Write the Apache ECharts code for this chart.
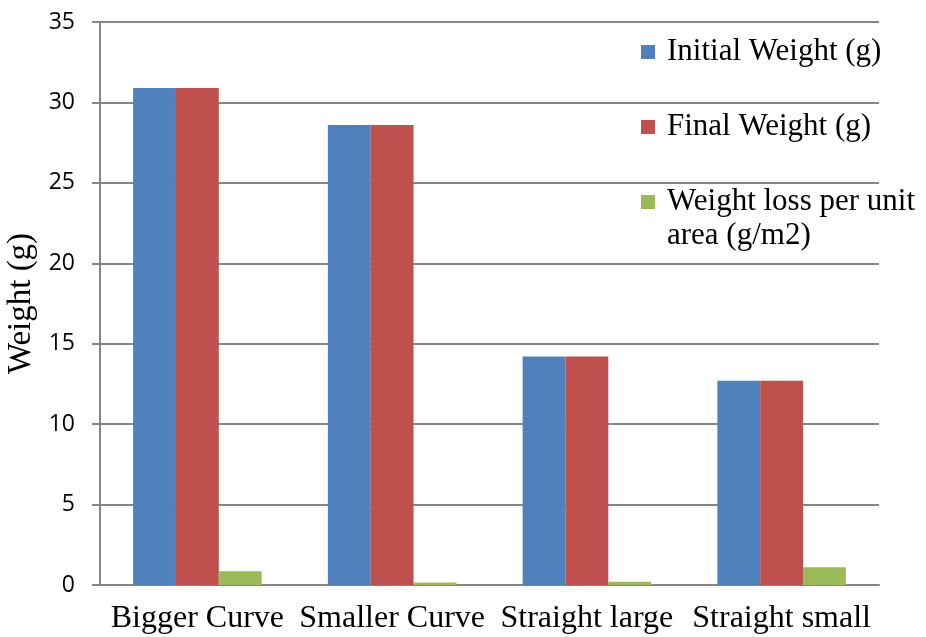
<!DOCTYPE html>
<html>
<head>
<meta charset="utf-8">
<script src="https://cdn.jsdelivr.net/npm/echarts@6/dist/echarts.min.js"></script>
<style>
  html, body { margin: 0; padding: 0; background: #fff; }
  #chart { width: 926px; height: 637px; }
</style>
</head>
<body>
<div id="chart"></div>
<script>
// 数据
var categories = ['Bigger Curve', 'Smaller Curve', 'Straight large', 'Straight small'];
var initialWeight = [30.9, 28.6, 14.2, 12.7];
var finalWeight = [30.9, 28.6, 14.2, 12.7];
var weightLoss = [0.85, 0.15, 0.2, 1.1];
var seriesNames = ['Initial Weight (g)', 'Final Weight (g)', 'Weight loss per unit area (g/m2)'];

var serif = '"Liberation Serif", "Times New Roman", serif';
var chart = echarts.init(document.getElementById('chart'));

var option = {
  animation: false,
  color: ['#4F81BD', '#C0504D', '#9BBB59'],
  grid: { left: 100, right: 47, top: 22, bottom: 52, outerBoundsMode: 'none' },
  legend: {
    orient: 'vertical',
    left: 636,
    top: 29,
    itemWidth: 14,
    itemHeight: 14,
    itemGap: 39,
    icon: 'rect',
    data: seriesNames,
    formatter: function (name) {
      // 第三项第二行用 graphic 画
      return name === seriesNames[2] ? 'Weight loss per unit' : name;
    },
    textStyle: { fontFamily: serif, fontSize: 31, color: '#000', lineHeight: 36, padding: [0, 0, 0, 7] }
  },
  graphic: [
    {
      type: 'text',
      left: 667,
      top: 220,
      style: { text: 'area (g/m2)', font: '31px ' + serif, fill: '#000' }
    }
  ],
  xAxis: {
    type: 'category',
    data: categories,
    axisLine: { lineStyle: { color: '#868686', width: 2 } },
    axisTick: { show: false },
    axisLabel: { fontFamily: serif, fontSize: 32, color: '#000', margin: 18, interval: 0 }
  },
  yAxis: {
    type: 'value',
    min: 0,
    max: 35,
    interval: 5,
    name: 'Weight (g)',
    nameLocation: 'middle',
    nameGap: 58,
    nameTextStyle: { fontFamily: serif, fontSize: 33, color: '#000' },
    axisLine: { show: true, lineStyle: { color: '#868686', width: 2 } },
    axisTick: { show: true, length: 8, lineStyle: { color: '#868686', width: 2 } },
    axisLabel: { fontFamily: '"Open Sans", sans-serif', fontSize: 23, color: '#000', margin: 25 },
    splitLine: { lineStyle: { color: '#868686', width: 2 } }
  },
  series: [
    { name: seriesNames[0], type: 'bar', data: initialWeight, barGap: '0%', barCategoryGap: '34%' },
    { name: seriesNames[1], type: 'bar', data: finalWeight, barGap: '0%', barCategoryGap: '34%' },
    { name: seriesNames[2], type: 'bar', data: weightLoss, barGap: '0%', barCategoryGap: '34%' }
  ]
};

chart.setOption(option);
</script>
</body>
</html>
